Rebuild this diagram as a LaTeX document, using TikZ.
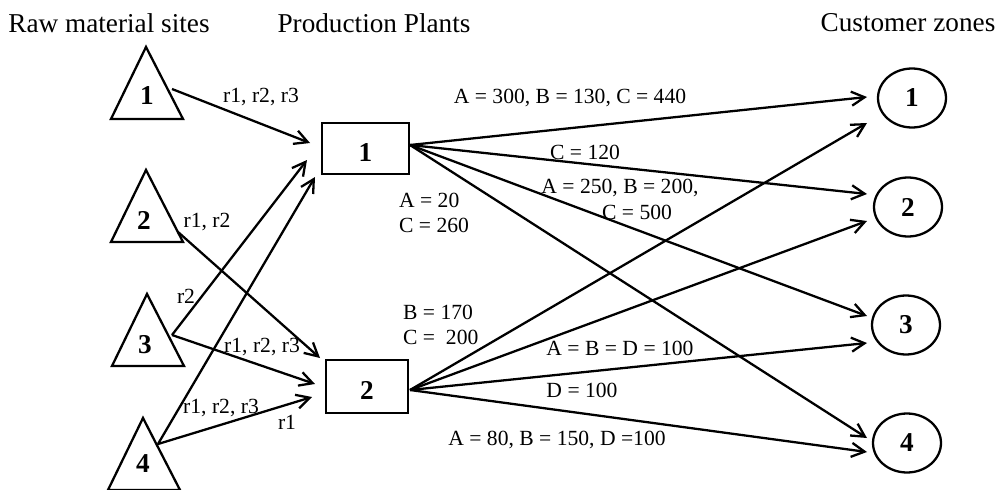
\documentclass[tikz,border=0pt]{standalone}
\usepackage{fontspec}
\setmainfont{Liberation Serif}
\usepackage{tikz}
\usetikzlibrary{positioning, arrows.meta, shapes.geometric}

\begin{document}
\begin{tikzpicture}[
    x=0.02cm, y=-0.02cm,
    line width=1.3pt,
    head/.style={font=\fontsize{15.5}{18}\selectfont, inner sep=0pt},
    site/.style={font=\fontsize{15.5}{18}\selectfont\bfseries, inner sep=0pt},
    plant/.style={draw, rectangle, inner sep=0pt, text height=15pt, text depth=0pt, font=\fontsize{15.5}{18}\selectfont\bfseries},
    zone/.style={draw, ellipse, minimum width=1.36cm, minimum height=1.18cm, inner sep=0pt, font=\fontsize{15.5}{18}\selectfont\bfseries},
    flow/.style={font=\fontsize{12.3}{14.2}\selectfont, inner sep=0pt},
    arrow/.style={-{Straight Barb[length=7.5pt, width=8pt]}},
]
\useasboundingbox (0,0) rectangle (998,490);

% headings
\node[head] (hraw) at (109,23) {Raw material sites};
\node[head] (hplant) at (374,23) {Production Plants};
\node[head] (hzone) at (908,23) {Customer zones};

% raw material sites
\foreach \x/\y in {146/47, 146/170, 147/294, 143/418}
    \draw (\x,\y) -- ++(37,72) -- ++(-72,0) -- cycle;
\node[site] (t1) at (147,96) {1};
\node[site] (t2) at (144,220) {2};
\node[site] (t3) at (145,345) {3};
\node[site] (t4) at (143,464) {4};

% plants and zones
\node[plant, minimum width=1.74cm, minimum height=1.02cm] (p1) at (365.5,148.5) {1};
\node[plant, minimum width=1.64cm, minimum height=1.06cm] (p2) at (367,386.5) {2};
\node[zone] (c1) at (912,98) {1};
\node[zone] (c2) at (908,207) {2};
\node[zone] (c3) at (906,325) {3};
\node[zone] (c4) at (907,443) {4};

% arrow ends
\coordinate (t1o) at (172,89);
\coordinate (t2o) at (178,232);
\coordinate (t3o) at (172,335);
\coordinate (t4o) at (158,444);
\coordinate (p1a) at (310,143);
\coordinate (p1b) at (307,160);
\coordinate (p1c) at (315,177);
\coordinate (p2a) at (320,358);
\coordinate (p2b) at (315,384);
\coordinate (p2c) at (312,397);
\coordinate (p1o) at (410,145);
\coordinate (p2o) at (410,390);
\coordinate (c1a) at (867,97);
\coordinate (c1b) at (867,123);
\coordinate (c2a) at (867,194);
\coordinate (c2b) at (867,221);
\coordinate (c3a) at (867,316);
\coordinate (c3b) at (867,343);
\coordinate (c4a) at (867,438);
\coordinate (c4b) at (867,452);

% raw material flows
\draw[arrow] (t1o) -- (p1a);
\draw[arrow] (t2o) -- (p2a);
\draw[arrow] (t3o) -- (p1b);
\draw[arrow] (t3o) -- (p2b);
\draw[arrow] (t4o) -- (p1c);
\draw[arrow] (t4o) -- (p2c);

% product flows
\foreach \c in {c1a, c2a, c3a, c4a}
    \draw[arrow] (p1o) -- (\c);
\foreach \c in {c1b, c2b, c3b, c4b}
    \draw[arrow] (p2o) -- (\c);

% labels
\node[flow] (r11) at (261,97) {r1, r2, r3};
\node[flow] (r22) at (207,222) {r1, r2};
\node[flow] (r31) at (186,296) {r2};
\node[flow] (r32) at (262,347) {r1, r2, r3};
\node[flow] (r41) at (221,408) {r1, r2, r3};
\node[flow] (r42) at (287,422) {r1};
\node[flow] (f11) at (570,98) {A = 300, B = 130, C = 440};
\node[flow] (f12) at (585,152) {C = 120};
\node[flow] (f13) at (620,188) {A = 250, B = 200,};
\node[flow] (f13b) at (637,212) {C = 500};
\node[flow, align=left, anchor=west] (f14) at (398,212.5) {A = 20\\C = 260};
\node[flow, align=left, anchor=west, font=\fontsize{12.3}{14.6}\selectfont] (f21) at (402,325) {B = 170\\C = \ 200};
\node[flow] (f23) at (620,348) {A = B = D = 100};
\node[flow] (f23b) at (582,390) {D = 100};
\node[flow] (f24) at (557,440) {A = 80, B = 150, D =100};
\end{tikzpicture}
\end{document}
